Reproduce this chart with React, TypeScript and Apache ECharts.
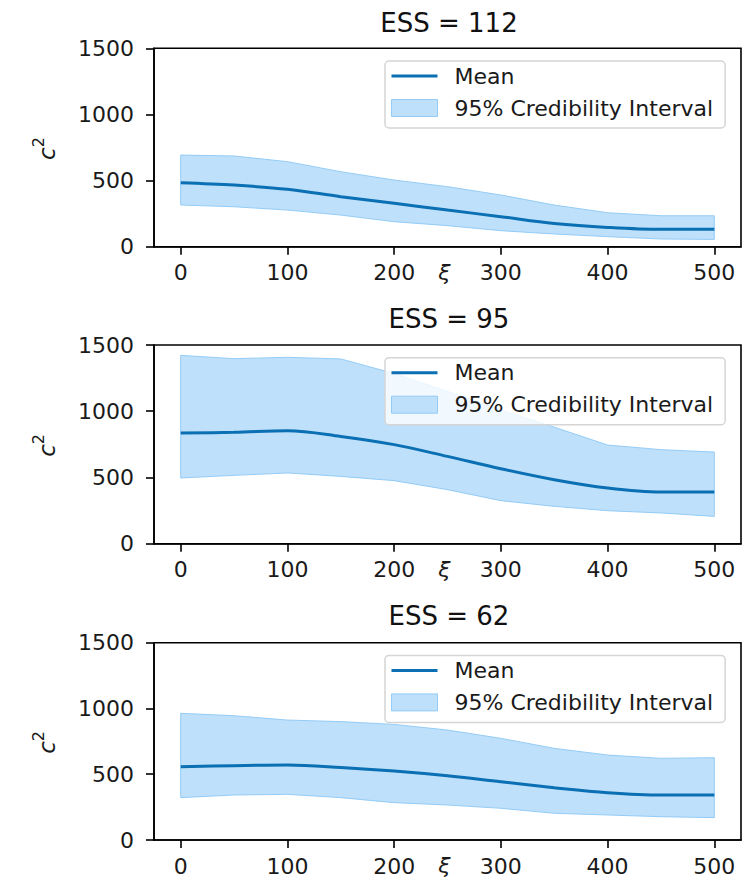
import React, { useEffect, useRef } from "react";
import * as echarts from "echarts";

const xi = [0, 50, 100, 150, 200, 250, 300, 350, 400, 450, 500];
const xTicks = [0, 100, 200, 300, 400, 500];
const essValues = [112, 95, 62];

const mean1 = [484, 466, 434, 378, 328, 277, 227, 176, 146, 131, 131];
const upper1 = [693, 686, 643, 567, 504, 454, 391, 315, 257, 234, 234];
const lower1 = [315, 302, 277, 239, 189, 159, 121, 96, 76, 58, 55];

const mean2 = [836, 841, 853, 810, 748, 659, 566, 483, 420, 390, 390];
const upper2 = [1422, 1397, 1407, 1395, 1285, 1150, 1010, 880, 745, 710, 692];
const lower2 = [496, 516, 534, 508, 476, 408, 325, 282, 249, 232, 206];

const mean3 = [557, 565, 570, 552, 525, 489, 443, 398, 360, 342, 342];
const upper3 = [963, 945, 912, 900, 879, 836, 773, 697, 646, 621, 626];
const lower3 = [322, 342, 347, 322, 284, 266, 241, 203, 190, 177, 170];

const panels = [
  { mean: mean1, upper: upper1, lower: lower1 },
  { mean: mean2, upper: upper2, lower: lower2 },
  { mean: mean3, upper: upper3, lower: lower3 },
];

const FONT = "DejaVu Sans";
const LINE = "#0a6fb3";
const FILL = "rgb(190,224,250)";
const EDGE = "rgba(140,200,245,0.9)";
const TXT = "#1a1a1a";

const layout = [
  { top: 48.3, height: 198.4 },
  { top: 345, height: 198.7 },
  { top: 642.7, height: 197.3 },
];
const titleY = [23, 319, 616];

export default function App() {
  const ref = useRef<HTMLDivElement>(null);
  useEffect(() => {
    if (!ref.current) return;
    const chart = echarts.init(ref.current, null, { renderer: "svg" });

    const grid = layout.map((g) => ({
      left: 154,
      width: 587,
      top: g.top,
      height: g.height,
      show: true,
      borderColor: "#000",
      borderWidth: 1.6,
      backgroundColor: "transparent",
    }));

    const xAxis = layout.map((_, i) => ({
      gridIndex: i,
      type: "value",
      min: -25,
      max: 525,
      z: 5,
      axisLine: { show: true, onZero: false, lineStyle: { color: "#000", width: 1.6 } },
      axisTick: { show: true, length: 8, lineStyle: { color: "#000", width: 1.6 }, customValues: xTicks },
      axisLabel: { customValues: xTicks, fontSize: 22, color: TXT, margin: 15, fontFamily: FONT, formatter: (v: number) => String(v) },
      splitLine: { show: false },
    }));

    const yAxis = layout.map((_, i) => ({
      gridIndex: i,
      type: "value",
      min: 0,
      max: 1500,
      interval: 500,
      z: 5,
      axisLine: { show: true, onZero: false, lineStyle: { color: "#000", width: 1.6 } },
      axisTick: { show: true, length: 8, lineStyle: { color: "#000", width: 1.6 } },
      axisLabel: { fontSize: 22, color: TXT, margin: 20, fontFamily: FONT, formatter: (v: number) => String(v) },
      splitLine: { show: false },
    }));

    const series: any[] = [];
    panels.forEach((p, i) => {
      const bandData = xi.map((x, j) => [x, p.lower[j], p.upper[j]]);
      series.push({
        type: "custom",
        name: "95% Credibility Interval",
        xAxisIndex: i,
        yAxisIndex: i,
        data: bandData,
        encode: { x: 0, y: [1, 2] },
        itemStyle: { color: FILL, borderColor: EDGE, borderWidth: 1 },
        silent: true,
        z: 1,
        renderItem: (params: any, api: any) => {
          if (params.dataIndex !== 0) return null;
          const top = bandData.map((d) => api.coord([d[0], d[2]]));
          const bottom = bandData
            .slice()
            .reverse()
            .map((d) => api.coord([d[0], d[1]]));
          return {
            type: "polygon",
            shape: { points: top.concat(bottom) },
            style: { fill: FILL, stroke: EDGE, lineWidth: 1 },
          };
        },
      });
      series.push({
        type: "line",
        name: "Mean",
        xAxisIndex: i,
        yAxisIndex: i,
        data: xi.map((x, j) => [x, p.mean[j]]),
        symbol: "none",
        smooth: 0.35,
        lineStyle: { width: 3, color: LINE },
        itemStyle: { color: LINE },
        z: 3,
      });
    });

    const legend = layout.map((g) => ({
      top: g.top + 12.7,
      left: 385,
      orient: "vertical",
      itemWidth: 46,
      itemHeight: 17,
      itemGap: 8,
      padding: [3, 12, 8, 6],
      backgroundColor: "rgba(255,255,255,0.8)",
      borderColor: "#d5d5d5",
      borderWidth: 1.5,
      borderRadius: 4,
      selectedMode: false,
      textStyle: { fontSize: 22, lineHeight: 24, color: TXT, fontFamily: FONT, padding: [0, 0, 0, 12] },
      data: [
        { name: "Mean", icon: "path://M0 0H46V3H0Z" },
        { name: "95% Credibility Interval", icon: "rect", itemStyle: { color: FILL, borderColor: EDGE, borderWidth: 1 } },
      ],
    }));

    const graphic: any[] = [];
    layout.forEach((g, i) => {
      graphic.push({
        type: "text",
        x: 449,
        y: titleY[i],
        style: {
          text: "ESS = " + essValues[i],
          font: `26px "${FONT}"`,
          fill: "#111",
          align: "center",
          verticalAlign: "middle",
        },
      });
      graphic.push({
        type: "text",
        x: 444.5,
        y: g.top + g.height + 25.5,
        style: {
          text: "ξ",
          font: `italic 22px "${FONT}"`,
          fill: TXT,
          align: "center",
          verticalAlign: "middle",
        },
      });
      graphic.push({
        type: "text",
        x: 44,
        y: g.top + g.height / 2 + 1,
        rotation: Math.PI / 2,
        style: {
          text: "{c|c}{s|2}",
          align: "center",
          verticalAlign: "middle",
          rich: {
            c: { fontSize: 23, fontStyle: "italic", fontFamily: FONT, fill: TXT, lineHeight: 28, verticalAlign: "bottom" },
            s: { fontSize: 16, fontFamily: FONT, fill: TXT, verticalAlign: "top" },
          },
        },
      });
    });

    chart.setOption({
      animation: false,
      backgroundColor: "#fff",
      grid,
      xAxis,
      yAxis,
      series,
      legend,
      graphic,
    });
    return () => chart.dispose();
  }, []);

  return (
    <div
      ref={ref}
      style={{ position: "absolute", left: 0, top: 0, width: 746, height: 878 }}
    />
  );
}
